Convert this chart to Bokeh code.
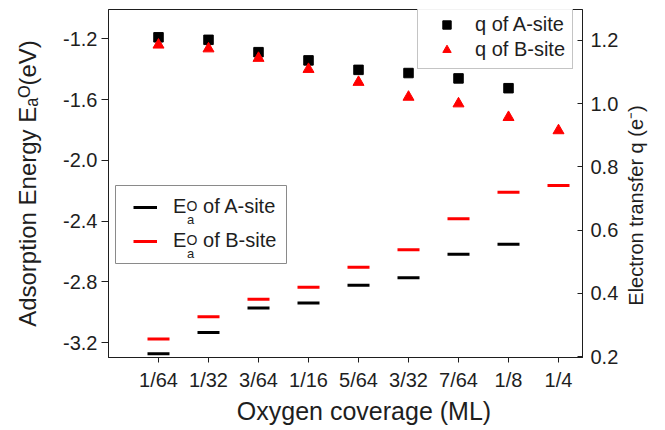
import math
from bokeh.plotting import figure
from bokeh.models import (Range1d, LinearAxis, FixedTicker, Legend, LegendItem,
                          Label, BoxAnnotation, NumeralTickFormatter)
from bokeh.embed import file_html
from bokeh.resources import INLINE

nan = float("nan")

# ---- data ----
coverage = ["1/64", "1/32", "3/64", "1/16", "5/64", "3/32", "7/64", "1/8", "1/4"]
E_A_site = [-3.272, -3.132, -2.972, -2.939, -2.821, -2.772, -2.617, -2.551, nan]
E_B_site = [-3.176, -3.029, -2.913, -2.834, -2.703, -2.588, -2.384, -2.209, -2.165]
q_A_site = [1.210, 1.202, 1.163, 1.137, 1.107, 1.097, 1.080, 1.049, nan]
q_B_site = [1.186, 1.174, 1.144, 1.109, 1.068, 1.021, 1.000, 0.957, 0.915]
left_ticks = [-3.2, -2.8, -2.4, -2.0, -1.6, -1.2]
right_ticks = [0.2, 0.4, 0.6, 0.8, 1.0, 1.2]

xpos = list(range(len(coverage)))

FONT = "Liberation Sans"
TXT = "#1e1e1e"

p = figure(width=665, height=430, output_backend="svg", toolbar_location=None,
           x_range=Range1d(-1, 8.48), y_range=Range1d(-3.297, -1.007),
           min_border_left=108, min_border_right=83, min_border_top=9,
           min_border_bottom=73)
p.extra_y_ranges = {"q": Range1d(0.197, 1.298)}
p.xgrid.visible = False
p.ygrid.visible = False
p.outline_line_color = TXT
p.outline_line_width = 1


def style_axis(ax, size=20):
    ax.minor_tick_out = 0
    ax.minor_tick_in = 0
    ax.major_label_text_font = FONT
    ax.major_label_text_font_size = f"{size}px"
    ax.major_label_text_color = TXT
    ax.axis_line_color = TXT
    ax.major_tick_line_color = TXT
    ax.axis_label_text_font = FONT
    ax.axis_label_text_font_style = "normal"
    ax.axis_label_text_color = TXT


def title_axis(ax, size):
    # an axis that only carries one tick label used as a title
    style_axis(ax, size)
    ax.axis_line_color = None
    ax.major_tick_line_color = None
    ax.major_tick_out = 0
    ax.major_tick_in = 0


# x axis
xa = p.xaxis[0]
style_axis(xa)
xa.ticker = FixedTicker(ticks=xpos)
xa.major_label_overrides = {i: c for i, c in zip(xpos, coverage)}
xa.major_tick_out = 5
xa.major_tick_in = 0
xa.major_label_standoff = 6

# x title (centred where the reference has it)
x_title_at = 4.11
xt = LinearAxis(ticker=FixedTicker(ticks=[x_title_at]))
title_axis(xt, 25)
xt.major_label_overrides = {x_title_at: "Oxygen coverage (ML)"}
xt.major_label_standoff = 3
p.add_layout(xt, "below")

# left axis
ya = p.yaxis[0]
style_axis(ya)
ya.ticker = FixedTicker(ticks=left_ticks)
ya.formatter = NumeralTickFormatter(format="0.0")
ya.major_tick_out = 7
ya.major_tick_in = 0
ya.major_label_standoff = 4
ya.axis_label = "Adsorption Energy E\u2090\u1D3C(eV)"
ya.axis_label_text_font_size = "24px"
ya.axis_label_standoff = 19

# right axis
ra = LinearAxis(y_range_name="q", ticker=FixedTicker(ticks=right_ticks),
                formatter=NumeralTickFormatter(format="0.0"))
style_axis(ra)
ra.major_tick_out = 0
ra.major_tick_in = 5
ra.major_label_standoff = 8
p.add_layout(ra, "right")

# right title, reading bottom-to-top
q_title_at = 0.361
rt = LinearAxis(y_range_name="q", ticker=FixedTicker(ticks=[q_title_at]))
title_axis(rt, 20)
rt.major_label_overrides = {q_title_at: "Electron transfer q (e\u207B)"}
rt.major_label_orientation = math.pi / 2
rt.major_label_standoff = 15
p.add_layout(rt, "right")

# energies as short horizontal dashes
eA = p.scatter(xpos, E_A_site, marker="dash", size=22, line_width=3, line_color="black")
eB = p.scatter(xpos, E_B_site, marker="dash", size=22, line_width=3, line_color="#ff0000")
# hidden line renderers used only for legend samples
lA = p.line(xpos, E_A_site, line_width=3, line_color="black", visible=False)
lB = p.line(xpos, E_B_site, line_width=3, line_color="#ff0000", visible=False)

# charge transfer
qA = p.scatter(xpos, q_A_site, marker="square", size=9.5, fill_color="black",
               line_color="black", y_range_name="q")
qB = p.scatter(xpos, q_B_site, marker="triangle", size=11, fill_color="#ff0000",
               line_color="#ff0000", y_range_name="q")

# legend top-right
leg1 = Legend(items=[LegendItem(label="q of A-site", renderers=[qA]),
                     LegendItem(label="q of B-site", renderers=[qB])],
              location=(309, 288), padding=7, glyph_width=43, glyph_height=21,
              label_height=21, label_standoff=7, spacing=2, margin=0,
              border_line_color="#8a8a8a", border_line_width=1,
              label_text_font=FONT, label_text_font_size="20px",
              label_text_color=TXT, background_fill_color="white")
p.add_layout(leg1, "center")

# legend bottom-left (box drawn separately)
box = BoxAnnotation(left=7, right=178, top=172, bottom=94,
                    left_units="screen", right_units="screen",
                    top_units="screen", bottom_units="screen",
                    fill_color="white", fill_alpha=1.0,
                    line_color="#8a8a8a", line_width=1, line_alpha=1.0)
p.add_layout(box)
sp = "\u00a0\u00a0\u00a0"
leg2 = Legend(items=[LegendItem(label="E" + sp + "of A-site", renderers=[lA]),
                     LegendItem(label="E" + sp + "of B-site", renderers=[lB])],
              location=(25, 104.5), padding=0, glyph_width=24, glyph_height=24,
              label_height=24, label_standoff=16, spacing=10, margin=0,
              border_line_alpha=0, background_fill_alpha=0,
              label_text_font=FONT, label_text_font_size="20px",
              label_text_color=TXT)
p.add_layout(leg2, "center")


def lab(text, px, py, size):
    # px, py: page coordinates of the text's baseline start
    p.add_layout(Label(x=px - 108, y=357 - py, x_units="screen", y_units="screen",
                       text=text, text_font=FONT, text_font_size=f"{size}px",
                       text_color=TXT, text_align="left",
                       text_baseline="alphabetic"))


# super/subscripts of the bottom legend
for dy in (0, 34):
    lab("O", 186, 205 + dy, 14)
    lab("a", 186.5, 218.5 + dy, 13)

open("out.html", "w").write(file_html(p, INLINE))
